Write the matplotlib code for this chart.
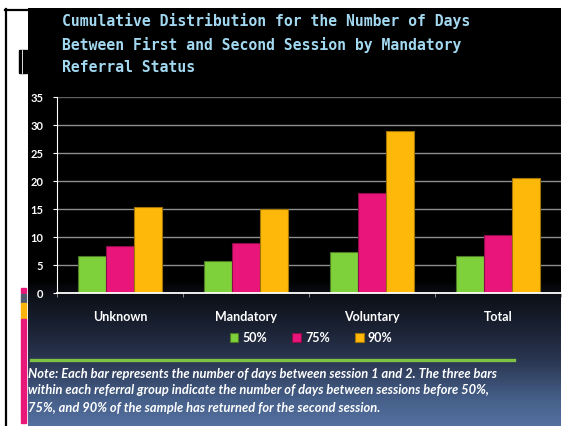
import numpy as np
import matplotlib
matplotlib.use("Agg")
import matplotlib.pyplot as plt
from matplotlib.patches import Rectangle
from matplotlib.lines import Line2D

# days between session 1 and 2, by referral group
categories = ["Unknown", "Mandatory", "Voluntary", "Total"]
p50 = [6.6, 5.8, 7.4, 6.6]
p75 = [8.4, 8.9, 17.9, 10.4]
p90 = [15.3, 15.0, 29.0, 20.5]
series_labels = ["50%", "75%", "90%"]
yticks = [0, 5, 10, 15, 20, 25, 30, 35]

title_lines = ["Cumulative Distribution for the Number of Days",
               "Between First and Second Session by Mandatory",
               "Referral Status"]
note_lines = ["Note: Each bar represents the number of days between session 1 and 2. The three bars",
              "within each referral group indicate the number of days between sessions before 50%,",
              "75%, and 90% of the sample has returned for the second session."]

W, H = 563, 426
fig = plt.figure(figsize=(W / 100, H / 100), dpi=100)
fig.patch.set_facecolor("white")

# background layer in pixel coordinates
bg = fig.add_axes([0, 0, 1, 1])
bg.axis("off")

# slide gradient: black on top fading to blue at the bottom
ys = np.arange(8, H + 1)
stops_y = [8, 280, 295, 330, 360, 400, 426]
stops_c = np.array([[0, 0, 0], [0, 0, 0], [12, 15, 22], [27, 35, 53],
                    [42, 53, 80], [70, 96, 138], [84, 112, 160]]) / 255.0
grad = np.stack([np.interp(ys, stops_y, stops_c[:, i]) for i in range(3)], axis=1)
bg.imshow(grad[:, None, :], extent=[28, 561, H, 8], aspect="auto", zorder=0)
bg.set_xlim(0, W)
bg.set_ylim(H, 0)

# frame and side decorations
bg.add_line(Line2D([6, 6], [9, H], color="black", lw=1.6))
bg.add_line(Line2D([5, 28], [9.5, 9.5], color="black", lw=1.6))
bg.add_patch(Rectangle((19, 50), 8, 23, color="black", zorder=2))
bg.add_line(Line2D([21.8, 21.8], [50, 73], color="white", lw=0.6, zorder=3))
bg.add_patch(Rectangle((21, 288), 5, 5, color="#e8177a", zorder=2))
bg.add_patch(Rectangle((21, 293.5), 5, 9.5, color="#505a6c", zorder=2))
bg.add_patch(Rectangle((21, 303), 5, 14.5, color="#fbb40c", zorder=2))
bg.add_patch(Rectangle((21, 319), 5, 104, color="#e8177a", zorder=2))

# title
for line, y in zip(title_lines, [21, 45, 68]):
    bg.text(62, y, line, color="#a2d8f0", fontsize=10.6, fontweight="bold",
            family="DejaVu Sans Mono", va="center", ha="left")

# separator and note
bg.add_line(Line2D([31, 514], [360, 360], color="#7dc242", lw=2.4))
for line, y in zip(note_lines, [373.5, 390.5, 407.5]):
    bg.text(28, y, line, color="white", fontsize=9.3, fontweight="bold",
            style="italic", family="Lato", va="center", ha="left")

# chart
ax = fig.add_axes([57 / W, (H - 293) / H, 504 / W, 196 / H])
ax.set_facecolor("none")
x = np.arange(len(categories))
w = 0.222
colors = ["#7fd13b", "#ea157a", "#feb80a"]
edges = ["#4c7a24", "#8c0d4a", "#a07406"]
bars = []
for k, vals in enumerate([p50, p75, p90]):
    b = ax.bar(x + (k - 1) * w, vals, w, color=colors[k], edgecolor=edges[k],
               linewidth=0.8, label=series_labels[k], zorder=3)
    bars.append(b)

ax.set_xlim(-0.5, 3.5)
ax.set_ylim(0, 35)
ax.set_yticks(yticks)
ax.set_yticklabels([str(t) for t in yticks], fontsize=8,
                   fontweight="bold", family="Lato")
ax.tick_params(axis="y", length=3, color="white", labelcolor="white", pad=7)
for yv in yticks:
    ax.axhline(yv, color="#5e5e5e" if yv == 35 else "#8e8e8e", lw=1, zorder=1)

ax.set_xticks(x)
ax.set_xticklabels(categories, fontsize=9, fontweight="bold", family="Lato")
ax.tick_params(axis="x", which="major", length=0, pad=13, labelcolor="white")
ax.set_xticks([-0.5, 0.5, 1.5, 2.5, 3.5], minor=True)
ax.tick_params(axis="x", which="minor", length=3, color="#9a9a9a")

for s in ["top", "right"]:
    ax.spines[s].set_visible(False)
ax.spines["left"].set_color("white")
ax.spines["bottom"].set_color("white")
ax.spines["bottom"].set_linewidth(1.3)
ax.spines["bottom"].set_zorder(4)

leg = fig.legend(handles=bars, loc="center", bbox_to_anchor=(311 / W, (H - 338) / H),
                 ncol=3, frameon=False, handlelength=0.7, handleheight=0.7,
                 handletextpad=0.3, columnspacing=2.05,
                 prop={"family": "Lato", "weight": "bold", "size": 9})
for t in leg.get_texts():
    t.set_color("white")

fig.savefig("out.png", dpi=100)
